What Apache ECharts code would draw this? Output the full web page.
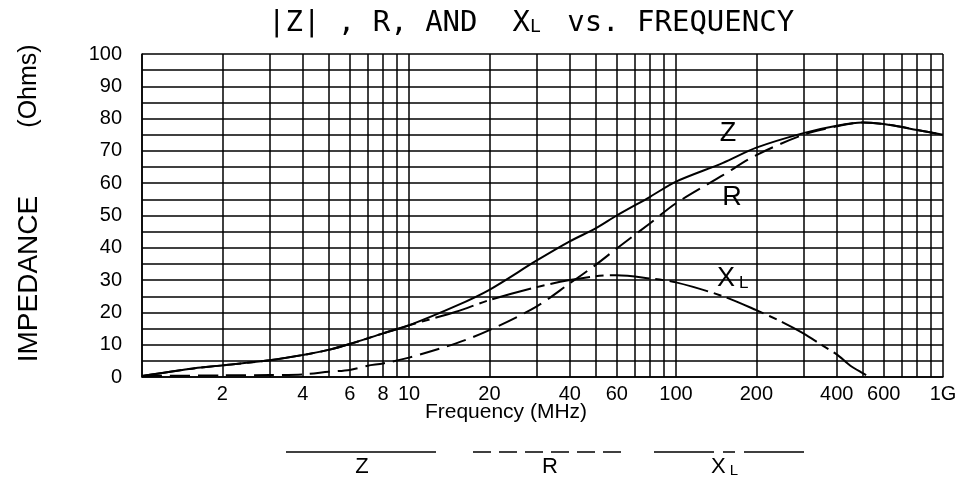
<!DOCTYPE html>
<html>
<head>
<meta charset="utf-8">
<script src="https://cdn.jsdelivr.net/npm/echarts@6/dist/echarts.min.js"></script>
<style>
html,body{margin:0;padding:0;background:#fff;}
#chart{width:962px;height:480px;}
</style>
</head>
<body>
<div id="chart"></div>
<script>
// ---- data ----
const freqZ = [1, 1.5, 2, 3, 4, 5, 6, 8, 10, 15, 20, 30, 40, 50, 60, 80, 100, 150, 200, 300, 400, 500, 600, 800, 1000];
const zVals = [0.3, 2.5, 3.6, 5.2, 6.8, 8.4, 10.2, 13.5, 16, 22, 27, 36, 42, 46, 50, 55.8, 60.5, 66.3, 71, 75.5, 77.8, 78.8, 78.3, 76.5, 75];

const freqR = [1, 2, 3, 4, 5, 6, 7, 8, 10, 15, 20, 30, 40, 50, 60, 80, 100, 150, 200, 300, 400, 500, 600, 800, 1000];
const rVals = [0.3, 0.5, 0.6, 0.8, 1.6, 2.2, 3.5, 4.2, 6, 10.4, 14.5, 21.8, 29, 34.7, 39.8, 47.6, 53.8, 62.5, 68.7, 75, 77.6, 78.8, 78.3, 76.5, 75];

const freqXL = [1, 1.5, 2, 3, 4, 5, 6, 8, 10, 15, 20, 30, 40, 50, 60, 80, 100, 150, 200, 250, 300, 350, 400, 450, 500, 530];
const xlVals = [0.3, 2.5, 3.6, 5.2, 6.8, 8.4, 10.2, 13.5, 16, 20.2, 23.8, 27.8, 30, 31.2, 31.5, 30.5, 29.3, 25, 20.7, 17, 13.5, 10, 7, 3.5, 1.2, 0];

const gridFreqs = [1,2,3,4,5,6,7,8,9,10,20,30,40,50,60,70,80,90,100,200,300,400,500,600,700,800,900,1000];
const xTickLabels = [2,4,6,8,10,20,40,60,100,200,400,600,1000];
const yTickLabels = [0,10,20,30,40,50,60,70,80,90,100];

function zip(a, b) { return a.map((v, i) => [v, b[i]]); }

const chart = echarts.init(document.getElementById('chart'), null, {renderer: 'canvas'});
const FONT = 'Liberation Sans';
const MONO = 'DejaVu Sans Mono';

const option = {
  backgroundColor: '#fff',
  animation: false,
  grid: {left: 142, right: 19, top: 54, bottom: 103, containLabel: false},
  xAxis: {
    type: 'log', logBase: 10, min: 1, max: 1000,
    axisLine: {show: true, lineStyle: {color: '#000', width: 1.5}},
    axisTick: {show: false, customValues: gridFreqs},
    axisLabel: {
      customValues: xTickLabels,
      color: '#000', fontFamily: FONT, fontSize: 20, margin: 7,
      formatter: v => (Math.abs(v - 1000) < 1e-6 ? '1G' : String(Math.round(v)))
    },
    splitLine: {show: true, lineStyle: {color: '#000', width: 1.5}},
    minorSplitLine: {show: false}
  },
  yAxis: {
    type: 'value', min: 0, max: 100, interval: 5,
    axisLine: {show: true, lineStyle: {color: '#000', width: 1.5}},
    axisTick: {show: false},
    axisLabel: {
      color: '#000', fontFamily: FONT, fontSize: 20, margin: 20,
      formatter: v => (yTickLabels.indexOf(v) >= 0 ? String(v) : '')
    },
    splitLine: {show: true, lineStyle: {color: '#000', width: 1.5}}
  },
  series: [
    {
      name: 'Z', type: 'line', data: zip(freqZ, zVals), showSymbol: false, smooth: 0.3,
      lineStyle: {color: '#000', width: 2}, z: 5
    },
    {
      name: 'R', type: 'line', data: zip(freqR, rVals), showSymbol: false, smooth: 0.3,
      lineStyle: {color: '#000', width: 2, type: [20, 8]}, z: 5
    },
    {
      name: 'XL', type: 'line', data: zip(freqXL, xlVals), showSymbol: false, smooth: 0.3,
      lineStyle: {color: '#000', width: 2, type: [40, 6, 8, 6]}, z: 5
    }
  ],
  graphic: [
    // title
    {type: 'text', x: 268, y: 23,
      style: {
        text: '{t||Z| , R, AND  X}{s|L}{t| vs. FREQUENCY}',
        verticalAlign: 'middle',
        rich: {
          t: {fontFamily: MONO, fontSize: 29, fill: '#000'},
          s: {fontFamily: MONO, fontSize: 18, fill: '#000', padding: [9, 9, 0, 0]}
        }
      }
    },
    // y axis name (two parts)
    {type: 'text', x: 29, y: 86, rotation: Math.PI / 2,
      style: {text: '(Ohms)', fontFamily: FONT, fontSize: 25, fill: '#000',
        align: 'center', verticalAlign: 'middle'}},
    {type: 'text', x: 29, y: 279, rotation: Math.PI / 2,
      style: {text: 'IMPEDANCE', fontFamily: FONT, fontSize: 28, fill: '#000',
        align: 'center', verticalAlign: 'middle'}},
    // x axis name
    {type: 'text', x: 506, y: 412,
      style: {text: 'Frequency (MHz)', fontFamily: FONT, fontSize: 21, fill: '#000',
        align: 'center', verticalAlign: 'middle'}},
    // in-plot labels
    {type: 'text', x: 728, y: 134,
      style: {text: 'Z', fontFamily: FONT, fontSize: 27, fill: '#000', align: 'center', verticalAlign: 'middle'}},
    {type: 'text', x: 732, y: 198,
      style: {text: 'R', fontFamily: FONT, fontSize: 27, fill: '#000', align: 'center', verticalAlign: 'middle'}},
    {type: 'text', x: 717, y: 279,
      style: {text: '{t|X}{s|L}', verticalAlign: 'middle', rich: {
        t: {fontFamily: FONT, fontSize: 27, fill: '#000'},
        s: {fontFamily: FONT, fontSize: 17, fill: '#000', padding: [9, 0, 0, 4]}
      }}},
    // bottom legend
    {type: 'line', shape: {x1: 286, y1: 452, x2: 436, y2: 452}, style: {stroke: '#000', lineWidth: 1.5}},
    {type: 'line', shape: {x1: 473, y1: 452, x2: 622, y2: 452}, style: {stroke: '#000', lineWidth: 1.5, lineDash: [18, 8]}},
    {type: 'line', shape: {x1: 654, y1: 452, x2: 804, y2: 452}, style: {stroke: '#000', lineWidth: 1.5, lineDash: [60, 9, 12, 9]}},
    {type: 'text', x: 362, y: 467,
      style: {text: 'Z', fontFamily: FONT, fontSize: 22, fill: '#000', align: 'center', verticalAlign: 'middle'}},
    {type: 'text', x: 550, y: 467,
      style: {text: 'R', fontFamily: FONT, fontSize: 22, fill: '#000', align: 'center', verticalAlign: 'middle'}},
    {type: 'text', x: 711, y: 467,
      style: {text: '{t|X}{s|L}', verticalAlign: 'middle', rich: {
        t: {fontFamily: FONT, fontSize: 22, fill: '#000'},
        s: {fontFamily: FONT, fontSize: 15, fill: '#000', padding: [7, 0, 0, 4]}
      }}}
  ]
};
chart.setOption(option);
</script>
</body>
</html>
